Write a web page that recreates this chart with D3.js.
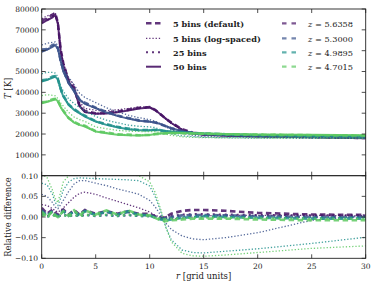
<!DOCTYPE html>
<html>
<head>
<meta charset="utf-8">
<script src="https://cdn.jsdelivr.net/npm/d3@7"></script>
<style>
  body { margin: 0; background: #fff; }
  text { font-family: 'DejaVu Serif', serif; }
</style>
</head>
<body>
<svg width="374" height="287"></svg>
<script>
// radius grid (grid units)
var radius = [0,0.5,1,1.25,1.5,1.75,2,2.5,3,3.5,4,5,6,7,8,9,10,10.5,11,11.5,12,13,14,15,17,20,25,30];

var redshifts = ["5.6358", "5.3000", "4.9895", "4.7015"];
var colors = ["#471365", "#3b528b", "#21918c", "#5ec962"];

// T [K], 50 bins (solid)
var temp50_z56 = [73100,74600,76000,77200,73000,60000,53000,45000,41500,33500,30500,29700,29800,30500,31300,32300,32700,31500,29500,27300,25300,22000,20300,19600,19200,18800,18400,18000];
var temp50_z53 = [59500,60500,61800,62700,61000,55000,50000,44400,40400,36400,34500,32400,30300,28700,27400,26400,25900,25500,24800,23800,22800,21300,20400,19900,19500,19100,18700,18300];
var temp50_z50 = [45200,46000,47000,47600,46200,41500,38000,34000,31600,30000,28400,26000,24400,23300,22300,21800,21800,22000,21800,21500,21200,20800,20500,20200,19900,19500,19200,19000];
var temp50_z47 = [34800,35500,36200,36700,35800,33000,30800,27600,25500,24400,23600,21200,20400,19700,19400,19300,19500,20000,20300,20500,20600,20500,20300,20200,20000,19800,19600,19400];

// relative difference, 5 bins (log-spaced)
var relLog_z56 = [.030,.028,.020,.015,.012,.016,.022,.035,.048,.057,.060,.055,.046,.038,.030,.022,.012,.004,.000,-.004,-.005,-.003,.000,.003,.004,.004,.004,.003];
var relLog_z53 = [.055,.050,.035,.024,.020,.030,.040,.062,.080,.088,.088,.082,.076,.068,.062,.055,.040,.025,.005,-.015,-.030,-.046,-.053,-.055,-.050,-.038,-.008,.003];
var relLog_z50 = [.082,.078,.055,.035,.028,.045,.065,.085,.093,.095,.094,.093,.092,.091,.090,.088,.075,.050,.015,-.025,-.055,-.080,-.086,-.087,-.083,-.077,-.064,-.049];
var relLog_z47 = [.105,.095,.065,.045,.035,.060,.085,.100,.104,.104,.104,.104,.104,.104,.103,.100,.085,.060,.020,-.025,-.060,-.088,-.094,-.095,-.092,-.086,-.076,-.070];

// relative difference, 5 bins (default)
var relDef_z56 = [.022,.008,.018,.010,.006,.012,.018,.006,.017,.006,.017,.008,.014,.008,.014,.008,.008,.002,-.002,.000,.008,.015,.017,.017,.015,.010,.006,.005];
var relDef_z53 = [.017,.004,.015,.006,.003,.009,.015,.004,.015,.004,.015,.006,.012,.006,.012,.006,.004,.000,-.004,-.004,.000,.004,.005,.005,.004,.002,.000,.000];
var relDef_z50 = [.014,.002,.014,.005,.002,.008,.014,.003,.014,.003,.014,.005,.014,.005,.014,.005,.004,-.002,-.006,-.008,-.006,-.002,.000,.002,.000,-.002,-.004,-.004];
var relDef_z47 = [.012,.000,.014,.004,.000,.007,.014,.003,.016,.003,.016,.006,.016,.006,.016,.006,.004,-.002,-.008,-.010,-.008,-.006,-.004,-.004,-.004,-.006,-.008,-.008];

// relative difference, 25 bins
var rel25_z56 = [.008,.002,.006,.004,.002,.004,.006,.002,.006,.002,.006,.003,.005,.003,.005,.003,.003,.000,-.002,.000,.003,.006,.007,.007,.006,.005,.004,.004];
var rel25_z53 = [.006,.001,.005,.003,.001,.003,.005,.001,.005,.001,.005,.002,.004,.002,.004,.002,.002,.000,-.002,-.002,.000,.002,.002,.002,.002,.001,.000,.000];
var rel25_z50 = [.005,.000,.005,.002,.000,.003,.005,.001,.005,.001,.005,.002,.005,.002,.005,.002,.002,-.001,-.003,-.004,-.003,-.001,.000,.001,.000,-.001,-.002,-.002];
var rel25_z47 = [.004,.000,.005,.002,.000,.003,.005,.001,.006,.001,.006,.003,.006,.003,.006,.003,.002,-.001,-.004,-.005,-.004,-.003,-.002,-.002,-.002,-.003,-.004,-.004];

var xTicks = [0, 5, 10, 15, 20, 25, 30];
var tTicks = [10000, 20000, 30000, 40000, 50000, 60000, 70000, 80000];
var relTicks = [-0.10, -0.05, 0.00, 0.05, 0.10];

var legendBins = ["5 bins (default)", "5 bins (log-spaced)", "25 bins", "50 bins"];

var temps = [temp50_z56, temp50_z53, temp50_z50, temp50_z47];
var relLog = [relLog_z56, relLog_z53, relLog_z50, relLog_z47];
var relDef = [relDef_z56, relDef_z53, relDef_z50, relDef_z47];
var rel25 = [rel25_z56, rel25_z53, rel25_z50, rel25_z47];

var svg = d3.select("svg");
var left = 41.7, right = 365.7;
var topA = 9, midA = 175.7, botA = 258.3;

var x = d3.scaleLinear().domain([0, 30]).range([left, right]);
var yT = d3.scaleLinear().domain([0, 80000]).range([midA, topA]);
var yR = d3.scaleLinear().domain([-0.1, 0.1]).range([botA, midA]);

var styles = {
    def: {w: 2.6, dash: "5.5,3.5", op: 0.85},
    log: {w: 1.3, dash: "1.3,1.9", op: 0.85},
    b25: {w: 2.0, dash: "2,4", op: 0.85},
    sol: {w: 2.0, dash: null, op: 0.9}
};

svg.append("defs").append("clipPath").attr("id", "clipT")
    .append("rect").attr("x", left).attr("y", topA).attr("width", right - left).attr("height", midA - topA);
svg.select("defs").append("clipPath").attr("id", "clipR")
    .append("rect").attr("x", left).attr("y", midA).attr("width", right - left).attr("height", botA - midA);

function drawLine(g, yScale, vals, color, st) {
    var line = d3.line()
        .x(function(d, i) { return x(radius[i]); })
        .y(function(d) { return yScale(d); });
    g.append("path")
        .attr("d", line(vals))
        .attr("fill", "none")
        .attr("stroke", color)
        .attr("stroke-width", st.w)
        .attr("stroke-opacity", st.op)
        .attr("stroke-dasharray", st.dash);
}

// top panel
var gT = svg.append("g").attr("clip-path", "url(#clipT)");
temps.forEach(function(t, k) {
    var c = colors[k];
    drawLine(gT, yT, t.map(function(v, i) { return v * (1 + relDef[k][i]); }), c, styles.def);
    drawLine(gT, yT, t.map(function(v, i) { return v * (1 + relLog[k][i]); }), c, styles.log);
    drawLine(gT, yT, t.map(function(v, i) { return v * (1 + rel25[k][i]); }), c, styles.b25);
    drawLine(gT, yT, t, c, styles.sol);
});

// bottom panel
var gR = svg.append("g").attr("clip-path", "url(#clipR)");
temps.forEach(function(t, k) {
    var c = colors[k];
    drawLine(gR, yR, relDef[k], c, styles.def);
    drawLine(gR, yR, relLog[k], c, styles.log);
    drawLine(gR, yR, rel25[k], c, styles.b25);
});

// frames and ticks
function frame(y0, y1, yScale, yt, fmt, labelX, showX) {
    var g = svg.append("g");
    g.append("rect").attr("x", left).attr("y", y0).attr("width", right - left).attr("height", y1 - y0)
        .attr("fill", "none").attr("stroke", "#222").attr("stroke-width", 0.9);
    xTicks.forEach(function(v) {
        g.append("line").attr("x1", x(v)).attr("x2", x(v)).attr("y1", y1).attr("y2", y1 - 4)
            .attr("stroke", "#222").attr("stroke-width", 0.8);
        g.append("line").attr("x1", x(v)).attr("x2", x(v)).attr("y1", y0).attr("y2", y0 + 4)
            .attr("stroke", "#222").attr("stroke-width", 0.8);
        if (showX) {
            g.append("text").attr("x", x(v)).attr("y", y1 + 10.5).attr("text-anchor", "middle")
                .attr("font-size", 7.5).attr("fill", "#222").text(v);
        }
    });
    yt.forEach(function(v) {
        var yy = yScale(v);
        g.append("line").attr("x1", left).attr("x2", left + 4).attr("y1", yy).attr("y2", yy)
            .attr("stroke", "#222").attr("stroke-width", 0.8);
        g.append("line").attr("x1", right).attr("x2", right - 4).attr("y1", yy).attr("y2", yy)
            .attr("stroke", "#222").attr("stroke-width", 0.8);
        g.append("text").attr("x", labelX).attr("y", yy + 2.8).attr("text-anchor", "end")
            .attr("font-size", 7.5).attr("fill", "#222").text(fmt(v));
    });
}
frame(topA, midA, yT, tTicks, function(v) { return v; }, 39, false);
frame(midA, botA, yR, relTicks, function(v) { return d3.format(".2f")(v).replace("-", "\u2212"); }, 38, true);

// axis labels
svg.append("text").attr("transform", "translate(11," + ((topA + midA) / 2 - 4) + ") rotate(-90)")
    .attr("text-anchor", "middle").attr("font-size", 8.5).attr("fill", "#222")
    .html('<tspan font-style="italic">T</tspan> [K]');
svg.append("text").attr("transform", "translate(11," + ((midA + botA) / 2) + ") rotate(-90)")
    .attr("text-anchor", "middle").attr("font-size", 8.3).attr("fill", "#222")
    .text("Relative difference");
svg.append("text").attr("x", (left + right) / 2).attr("y", 279)
    .attr("text-anchor", "middle").attr("font-size", 8.5).attr("fill", "#222")
    .html('<tspan font-style="italic">r</tspan> [grid units]');

// legend
var legRows = [23.3, 38.3, 52.3, 66.7];
var legStyles = [styles.def, styles.log, styles.b25, styles.sol];
legendBins.forEach(function(name, i) {
    svg.append("line").attr("x1", 146).attr("x2", 161).attr("y1", legRows[i]).attr("y2", legRows[i])
        .attr("stroke", colors[0]).attr("stroke-width", legStyles[i].w)
        .attr("stroke-opacity", legStyles[i].op).attr("stroke-dasharray", legStyles[i].dash);
    svg.append("text").attr("x", 173).attr("y", legRows[i] + 3.2)
        .attr("font-size", 8.2).attr("font-weight", "bold").attr("fill", "#222").text(name);
});
redshifts.forEach(function(z, i) {
    svg.append("line").attr("x1", 282).attr("x2", 297).attr("y1", legRows[i]).attr("y2", legRows[i])
        .attr("stroke", colors[i]).attr("stroke-width", 2.2)
        .attr("stroke-opacity", 0.7).attr("stroke-dasharray", "4.5,5");
    svg.append("text").attr("x", 308).attr("y", legRows[i] + 3.2)
        .attr("font-size", 8.2).attr("fill", "#222")
        .html('<tspan font-style="italic">z</tspan> = ' + z);
});
</script>
</body>
</html>
